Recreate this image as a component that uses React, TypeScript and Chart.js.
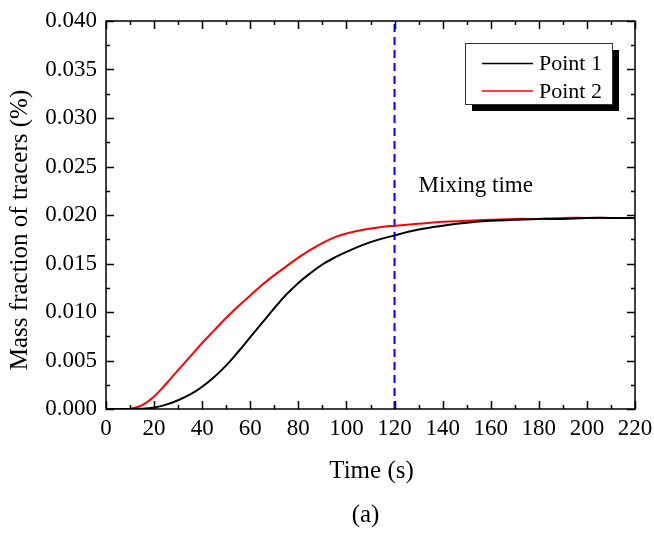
import React, { useEffect, useRef } from 'react';
import { Chart, registerables } from 'chart.js';

Chart.register(...registerables);

const timeS = [0, 5, 10, 15, 20, 25, 30, 35, 40, 45, 50, 55, 60, 65, 70, 75, 80, 85, 90, 95, 100, 110, 120, 130, 140, 150, 160, 170, 180, 190, 200, 210, 220];
const point1 = [0, 0, 0, 0.00002, 0.00015, 0.00045, 0.0009, 0.0015, 0.0023, 0.0033, 0.0045, 0.0059, 0.0074, 0.0089, 0.0104, 0.0118, 0.013, 0.014, 0.0149, 0.0156, 0.0162, 0.0172, 0.0179, 0.0185, 0.0189, 0.0192, 0.0194, 0.0195, 0.0196, 0.0196, 0.0197, 0.0197, 0.0197];
const point2 = [0, 0, 0.00002, 0.0004, 0.0013, 0.0026, 0.004, 0.0054, 0.0068, 0.0081, 0.0094, 0.0106, 0.0117, 0.0128, 0.0138, 0.0147, 0.0156, 0.0164, 0.0171, 0.0177, 0.0181, 0.0186, 0.0189, 0.0191, 0.0193, 0.0194, 0.0195, 0.0196, 0.0196, 0.0197, 0.0197, 0.0197, 0.0197];
const seriesNames = ['Point 1', 'Point 2'];
const seriesColors = ['#000000', '#ff0000'];
const mixingTime = 120;
const mixingLabel = 'Mixing time';
const xTitle = 'Time (s)';
const yTitle = 'Mass fraction of tracers (%)';
const caption = '(a)';
const xRange = [0, 220];
const yRange = [0, 0.04];
const xMajor = 20;
const xMinor = 10;
const yMajor = 0.005;
const yMinor = 0.0025;

const FONT = "'Liberation Serif', 'Times New Roman', serif";

const decorPlugin = {
  id: 'decor',
  beforeDraw(chart: any) {
    const ctx = chart.ctx;
    ctx.save();
    ctx.fillStyle = '#ffffff';
    ctx.fillRect(0, 0, chart.width, chart.height);
    ctx.restore();
  },
  afterDatasetsDraw(chart: any) {
    const ctx = chart.ctx;
    const { left, right, top, bottom } = chart.chartArea;
    const xs = chart.scales.x;
    const ys = chart.scales.y;
    ctx.save();
    ctx.strokeStyle = '#000000';
    ctx.lineWidth = 1.5;
    ctx.strokeRect(left, top, right - left, bottom - top);
    ctx.beginPath();
    for (let v = xRange[0]; v <= xRange[1] + 1e-9; v += xMinor) {
      const major = Math.abs(v / xMajor - Math.round(v / xMajor)) < 1e-6;
      const len = major ? 8 : 4;
      const px = Math.round(xs.getPixelForValue(v)) + 0.5;
      ctx.moveTo(px, bottom);
      ctx.lineTo(px, bottom - len);
      ctx.moveTo(px, top);
      ctx.lineTo(px, top + len);
    }
    for (let i = 0; i <= Math.round((yRange[1] - yRange[0]) / yMinor); i++) {
      const v = yRange[0] + i * yMinor;
      const major = i % 2 === 0;
      const len = major ? 8 : 4;
      const py = Math.round(ys.getPixelForValue(v)) + 0.5;
      ctx.moveTo(left, py);
      ctx.lineTo(left + len, py);
      ctx.moveTo(right, py);
      ctx.lineTo(right - len, py);
    }
    ctx.stroke();

    // mixing time label
    ctx.fillStyle = '#000000';
    ctx.font = `23px ${FONT}`;
    ctx.textAlign = 'left';
    ctx.textBaseline = 'alphabetic';
    ctx.fillText(mixingLabel, xs.getPixelForValue(mixingTime) + 24, 192);

    // titles
    ctx.font = `25px ${FONT}`;
    ctx.textAlign = 'center';
    ctx.fillText(xTitle, (left + right) / 2 + 1, 478);
    ctx.fillText(caption, (left + right) / 2 - 5, 522);
    ctx.save();
    ctx.translate(27, 230);
    ctx.rotate(-Math.PI / 2);
    ctx.fillText(yTitle, 0, 0);
    ctx.restore();

    // legend
    const bx = 465, by = 43, bw = 147, bh = 61;
    ctx.fillStyle = '#000000';
    ctx.fillRect(bx + 7, by + 7, bw, bh);
    ctx.fillStyle = '#ffffff';
    ctx.fillRect(bx, by, bw, bh);
    ctx.strokeStyle = '#333333';
    ctx.lineWidth = 1;
    ctx.strokeRect(bx + 0.5, by + 0.5, bw, bh);
    ctx.font = `22px ${FONT}`;
    ctx.textAlign = 'left';
    ctx.textBaseline = 'middle';
    const rows = [63.5, 91];
    seriesNames.forEach((name, i) => {
      ctx.strokeStyle = seriesColors[i];
      ctx.lineWidth = 1.5;
      ctx.beginPath();
      ctx.moveTo(482, rows[i]);
      ctx.lineTo(533, rows[i]);
      ctx.stroke();
      ctx.fillStyle = '#000000';
      ctx.fillText(name, 539, rows[i] + 1);
    });
    ctx.restore();
  },
};

export default function App() {
  const ref = useRef<HTMLCanvasElement>(null);
  useEffect(() => {
    if (!ref.current) return;
    const chart = new Chart(ref.current, {
      type: 'line',
      data: {
        datasets: [
          {
            label: seriesNames[0],
            data: timeS.map((t, i) => ({ x: t, y: point1[i] })),
            borderColor: seriesColors[0],
            borderWidth: 2,
            pointRadius: 0,
            tension: 0.4,
          },
          {
            label: seriesNames[1],
            data: timeS.map((t, i) => ({ x: t, y: point2[i] })),
            borderColor: seriesColors[1],
            borderWidth: 2,
            pointRadius: 0,
            tension: 0.4,
          },
          {
            label: mixingLabel,
            data: [
              { x: mixingTime, y: yRange[0] },
              { x: mixingTime, y: yRange[1] },
            ],
            borderColor: '#0000ff',
            borderWidth: 2,
            borderDash: [8, 5],
            pointRadius: 0,
          },
        ],
      },
      options: {
        responsive: false,
        animation: false,
        devicePixelRatio: 1,
        layout: { padding: { left: 0, top: 21, right: 19, bottom: 0 } },
        plugins: { legend: { display: false }, tooltip: { enabled: false } },
        scales: {
          x: {
            type: 'linear',
            min: xRange[0],
            max: xRange[1],
            grid: { display: false, drawTicks: false },
            border: { display: false },
            ticks: {
              stepSize: xMajor,
              padding: 6,
              color: '#000000',
              font: { family: FONT, size: 23 },
              maxRotation: 0,
            },
            afterFit: (s: any) => {
              s.height = 124;
              s.paddingLeft = 0;
              s.paddingRight = 0;
            },
          },
          y: {
            type: 'linear',
            min: yRange[0],
            max: yRange[1],
            grid: { display: false, drawTicks: false },
            border: { display: false },
            ticks: {
              stepSize: yMajor,
              padding: 9,
              color: '#000000',
              font: { family: FONT, size: 23 },
              callback: (v: any) => Number(v).toFixed(3),
            },
            afterFit: (s: any) => {
              s.width = 106;
              s.paddingTop = 0;
              s.paddingBottom = 0;
            },
          },
        },
      },
      plugins: [decorPlugin],
    });
    return () => chart.destroy();
  }, []);
  return (
    <div style={{ position: 'fixed', left: 0, top: 0, width: 654, height: 533, background: '#fff' }}>
      <canvas ref={ref} width={654} height={533} style={{ width: 654, height: 533, display: 'block' }} />
    </div>
  );
}
